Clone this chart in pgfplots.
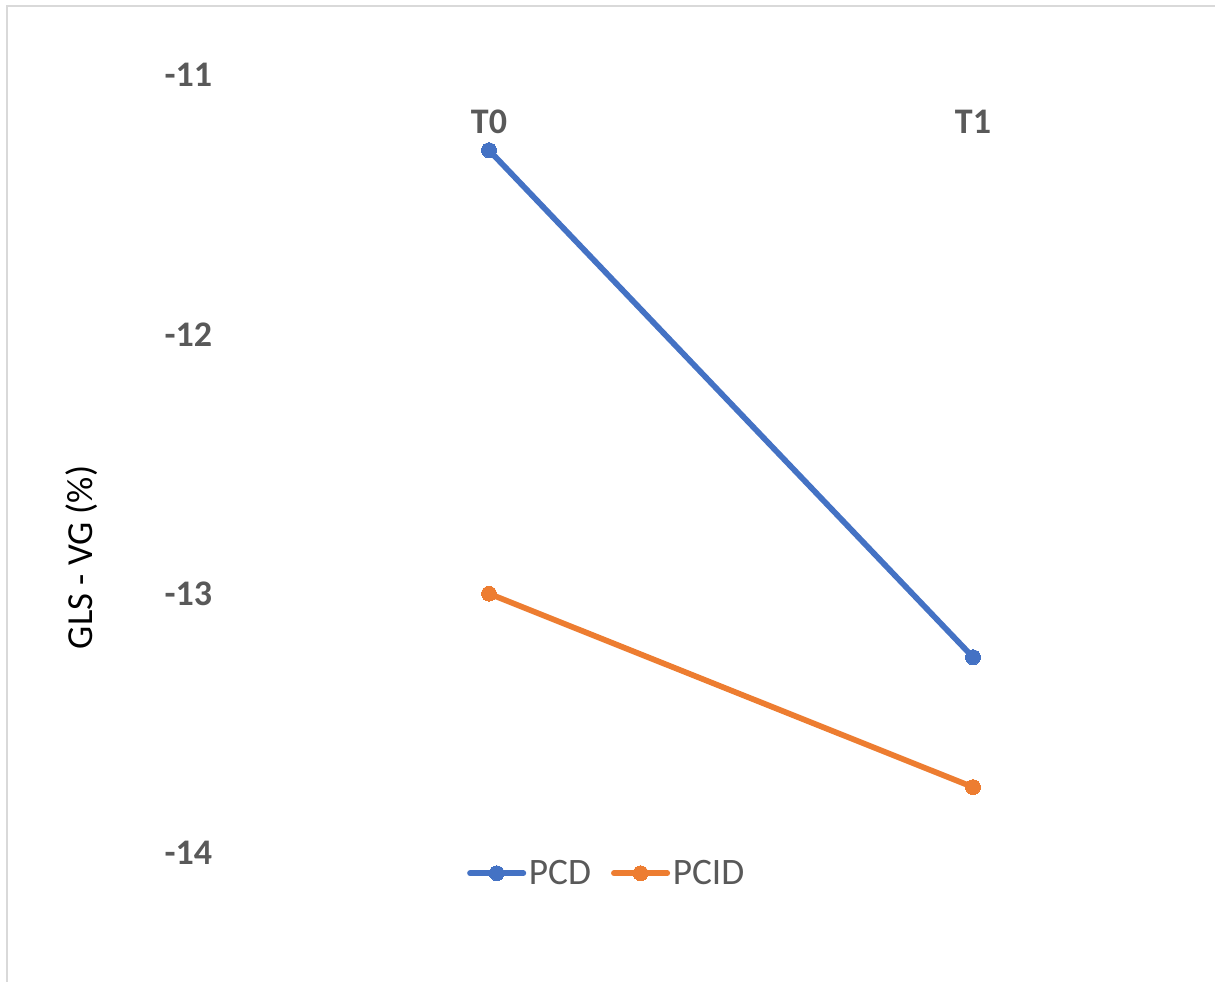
\documentclass[border=0pt]{standalone}
\usepackage{pgfplots}
\pgfplotsset{compat=1.18}
\usepackage{fontspec}
\setmainfont{Carlito}
\definecolor{pcd}{HTML}{4472C4}
\definecolor{pcid}{HTML}{ED7D31}
\definecolor{txt}{HTML}{595959}
\definecolor{brd}{HTML}{D9D9D9}
\begin{document}
\begin{tikzpicture}
\useasboundingbox (0,0) rectangle (911.25pt,736.5pt);
\draw[brd, line width=1pt] (5.25pt,0pt) -- (5.25pt,732pt) -- (911.25pt,732pt);
\begin{axis}[
  at={(185.25pt,96.75pt)}, anchor=south west,
  scale only axis, width=726pt, height=583.5pt,
  xmin=-0.5, xmax=1.5, ymin=-14, ymax=-11,
  axis line style={draw=none},
  major tick length=0pt,
  xtick={0,1}, xticklabels={T0,T1},
  ytick={-14,-13,-12,-11},
  xticklabel pos=upper,
  /pgf/number format/assume math mode=true,
  xticklabel style={anchor=center, yshift=-35pt, font=\fontsize{27}{32}\selectfont\bfseries, text=txt},
  yticklabel style={anchor=east, inner sep=0pt, xshift=-26pt, font=\fontsize{27}{32}\selectfont\bfseries, text=txt},
  ylabel={GLS - VG (\%)},
  every axis y label/.style={at={(axis description cs:-0.1705,0.38)}, rotate=90, anchor=center, font=\fontsize{27.5}{32}\selectfont, text=black},
  legend style={at={(axis description cs:0.372,-0.026)}, anchor=center, draw=none, fill=none,
    font=\fontsize{28}{33}\selectfont, text=txt, legend columns=2,
    /tikz/every even column/.append style={column sep=13pt}},
  legend cell align=left,
  legend image code/.code={\draw[mark repeat=2,mark phase=2,#1] plot coordinates {(0pt,0pt) (20pt,0pt) (40pt,0pt)};},
  clip=false,
]
\addplot[pcd, line width=4.3pt, line cap=round, mark=*, mark size=5.6pt, mark options={line width=0pt, fill=pcd, draw=pcd}]
  coordinates {(0,-11.29) (1,-13.245)};
\addlegendentry{PCD}
\addplot[pcid, line width=4.3pt, line cap=round, mark=*, mark size=5.6pt, mark options={line width=0pt, fill=pcid, draw=pcid}]
  coordinates {(0,-13.0) (1,-13.746)};
\addlegendentry{PCID}
\end{axis}
\end{tikzpicture}
\end{document}
